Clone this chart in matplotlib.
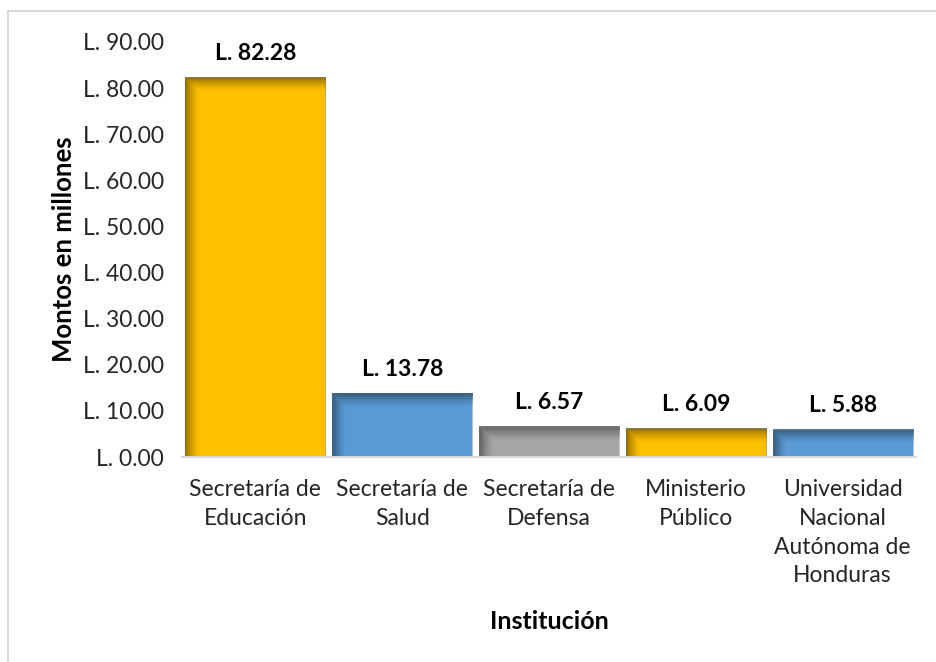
import numpy as np
import matplotlib
matplotlib.use("Agg")
import matplotlib.pyplot as plt
from matplotlib.lines import Line2D
from matplotlib.colors import to_rgb

categories = ["Secretaría de\nEducación", "Secretaría de\nSalud", "Secretaría de\nDefensa",
              "Ministerio\nPúblico", "Universidad\nNacional\nAutónoma de\nHonduras"]
values = [82.28, 13.78, 6.57, 6.09, 5.88]
colors = ["#FFC000", "#5B9BD5", "#A5A5A5", "#FFC000", "#5B9BD5"]
edge_colors = ["#C9A96B", "#A9C4DE", "#C8C8C8", "#C9A96B", "#A9C4DE"]
yticks = [0, 10, 20, 30, 40, 50, 60, 70, 80, 90]

plt.rcParams['font.family'] = ['Lato', 'DejaVu Sans']

W, H = 937, 662
fig = plt.figure(figsize=(W / 100, H / 100), dpi=100)
ax = fig.add_axes([182 / W, 1 - 457 / H, (916 - 182) / W, (457 - 42) / H])

x = np.arange(len(categories))
bars = ax.bar(x, values, width=0.955, color=colors, edgecolor=edge_colors, linewidth=0.8, zorder=2)

ax.set_xlim(-0.5, len(categories) - 0.5)
ax.set_ylim(0, 90)
ax.set_yticks(yticks)
ax.set_yticklabels([f"L. {v:.2f}" for v in yticks], fontsize=16.5, color="#262626")
ax.set_xticks(x)
ax.set_xticklabels(categories, fontsize=16.5, color="#262626", linespacing=1.45)
ax.tick_params(axis='both', length=0)
ax.tick_params(axis='y', pad=13)
ax.tick_params(axis='x', pad=16)
for s in ['top', 'right', 'left']:
    ax.spines[s].set_visible(False)
ax.spines['bottom'].set_color("#D9D9D9")
ax.spines['bottom'].set_linewidth(1.5)

# bevel / inner shadow effect
fig.canvas.draw()
for b, c in zip(bars, colors):
    bb = b.get_window_extent()
    pw, ph = max(int(bb.width), 2), max(int(bb.height), 2)
    xs = np.arange(pw)[None, :]
    ys = np.arange(ph)[:, None]
    sw = 14.0
    a_left = np.clip(1 - xs / sw, 0, 1) ** 1.4
    a_top = np.clip(1 - ys / sw, 0, 1) ** 1.4
    alpha = np.maximum(a_left, a_top) * 0.75
    alpha = np.broadcast_to(alpha, (ph, pw))
    dark = np.array(to_rgb(c)) * 0.45
    img = np.zeros((ph, pw, 4))
    img[..., :3] = dark
    img[..., 3] = alpha
    ax.imshow(img, extent=(b.get_x(), b.get_x() + b.get_width(), 0, b.get_height()),
              aspect='auto', origin='upper', zorder=2.5, interpolation='bilinear')
ax.set_xlim(-0.5, len(categories) - 0.5)
ax.set_ylim(0, 90)

for xi, v in zip(x, values):
    ax.annotate(f"L. {v:.2f}", (xi, v), xytext=(0, 10), textcoords='offset points',
                ha='center', va='bottom', fontsize=16.5, fontweight='bold', color="#000000")

ax.set_ylabel("Montos en millones", fontsize=18.5, fontweight='bold', labelpad=5)
ax.set_xlabel("Institución", fontsize=18, fontweight='bold', labelpad=17)

# figure border
fig.add_artist(Line2D([8 / W, 1], [1 - 11 / H, 1 - 11 / H], color="#D9D9D9", lw=1.5))
fig.add_artist(Line2D([8 / W, 8 / W], [0, 1 - 11 / H], color="#D9D9D9", lw=1.5))

fig.savefig("out.png", dpi=100)
